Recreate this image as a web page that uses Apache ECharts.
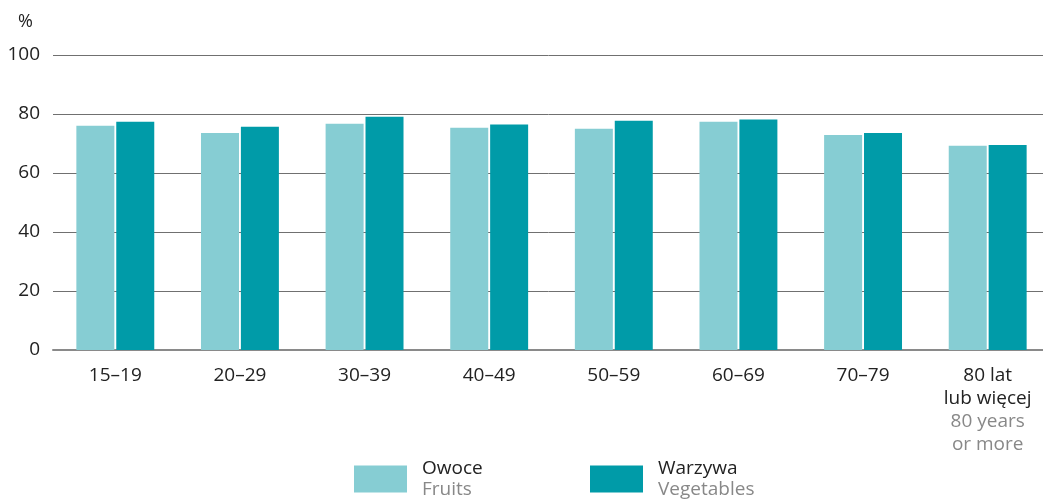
<!DOCTYPE html>
<html>
<head>
<meta charset="utf-8">
<script src="https://cdn.jsdelivr.net/npm/echarts@6/dist/echarts.min.js"></script>
<style>
html,body{margin:0;padding:0;background:#fff;}
#chart{width:1043px;height:501px;}
</style>
</head>
<body>
<div id="chart"></div>
<script>
// grupy wieku
var categories = ['15–19', '20–29', '30–39', '40–49', '50–59', '60–69', '70–79', '80 lat'];
var fruits = [76.0, 73.6, 76.7, 75.3, 75.0, 77.4, 72.9, 69.2];
var vegetables = [77.4, 75.7, 79.1, 76.4, 77.7, 78.1, 73.6, 69.5];
var yTicks = [0, 20, 40, 60, 80, 100];

var font = '"Open Sans", "Noto Sans", sans-serif';
var myChart = echarts.init(document.getElementById('chart'));
var option = {
    animation: false,
    textStyle: {fontFamily: font},
    title: {
        text: '%',
        left: 13,
        top: 8,
        textStyle: {fontSize: 18, fontWeight: 'normal', color: '#222', fontFamily: font}
    },
    grid: {left: 53, right: -7, top: 55, bottom: 151, outerBoundsMode: 'none', containLabel: false},
    legend: {
        left: 354,
        top: 459,
        padding: 0,
        itemWidth: 53,
        itemHeight: 27,
        itemGap: 48,
        icon: 'rect',
        data: ['Owoce', 'Warzywa'],
        formatter: function (name) {
            var en = name === 'Owoce' ? 'Fruits' : 'Vegetables';
            return '{a|' + name + '}\n{b|' + en + '}';
        },
        textStyle: {
            padding: [0, 0, 0, 10],
            rich: {
                a: {fontSize: 19, color: '#222', lineHeight: 21, width: 120, fontFamily: font},
                b: {fontSize: 19, color: '#888', lineHeight: 21, width: 120, fontFamily: font}
            }
        }
    },
    xAxis: {
        type: 'category',
        data: categories,
        axisLine: {lineStyle: {color: '#8a8a8a', width: 2}},
        axisTick: {show: false},
        axisLabel: {
            margin: 14,
            formatter: function (v) {
                if (v === '80 lat') {
                    return '{a|80 lat}\n{a|lub więcej}\n{b|80 years}\n{b|or more}';
                }
                return '{a|' + v + '}';
            },
            rich: {
                a: {fontSize: 19, color: '#222', lineHeight: 23, fontFamily: font},
                b: {fontSize: 19, color: '#888', lineHeight: 23, fontFamily: font}
            }
        }
    },
    yAxis: {
        type: 'value',
        min: yTicks[0],
        max: yTicks[yTicks.length - 1],
        interval: 20,
        axisLine: {show: false},
        axisTick: {show: false},
        axisLabel: {fontSize: 19, color: '#222', margin: 13, fontFamily: font},
        splitLine: {lineStyle: {color: '#707070', width: 1}}
    },
    series: [
        {
            name: 'Owoce',
            type: 'bar',
            barWidth: 38,
            barGap: '5%',
            itemStyle: {color: '#86cdd3'},
            data: fruits
        },
        {
            name: 'Warzywa',
            type: 'bar',
            barWidth: 38,
            barGap: '5%',
            itemStyle: {color: '#009ba8'},
            data: vegetables
        }
    ]
};
myChart.setOption(option);
</script>
</body>
</html>
